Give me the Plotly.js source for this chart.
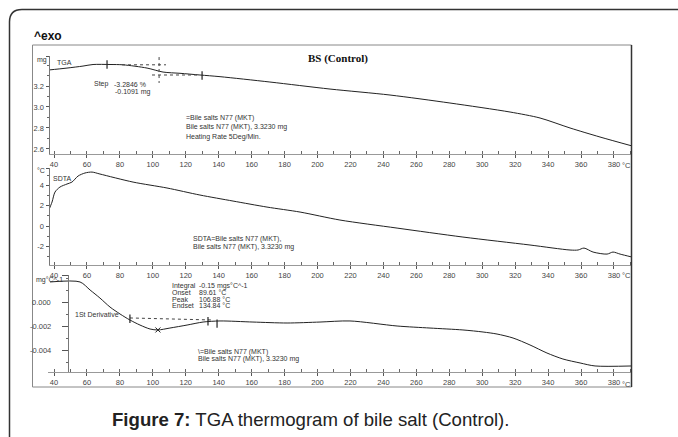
<!DOCTYPE html>
<html>
<head>
<meta charset="utf-8">
<script src="https://cdn.plot.ly/plotly-3.0.1.min.js"></script>
<style>html,body{margin:0;padding:0;background:#fff;}#chart{width:678px;height:437px;}</style>
</head>
<body>
<div id="chart"></div>
<script>
// ---------- data ----------
const xTickVals = [40,60,80,100,120,140,160,180,200,220,240,260,280,300,320,340,360,380];
const xTickText = ["40","60","80","100","120","140","160","180","200","220","240","260","280","300","320","340","360","380"];

// TGA (mg)
const tgaT    = [36.4,47.9,57.6,63.7,74.0,81.9,96.5,106.2,116.5,128.6,140.8,171.1,207.6,244.0,280.4,316.9,335.1,353.3,371.5,390.9];
const tgaMass = [3.352,3.371,3.390,3.405,3.405,3.402,3.371,3.333,3.321,3.305,3.289,3.238,3.171,3.114,3.038,2.952,2.895,2.800,2.714,2.629];
const tgaTickVals = [2.6,2.8,3.0,3.2];
const tgaTickText = ["2.6","2.8","3.0","3.2"];
// step evaluation construction lines
const stepUpperT = [81.3,108.0], stepUpperM = [3.402,3.402];
const stepLowerT = [99.5,128.0], stepLowerM = [3.305,3.305];
const stepVertT  = [103.8,103.8], stepVertM = [3.476,3.229];
const stepMarkT  = [72.2,129.9],  stepMarkM = [3.405,3.300];

// SDTA (°C)
const sdtaT   = [36.4,38.8,40.6,43.6,47.9,50.9,54.6,58.8,63.1,67.9,88.0,108.6,128.6,148.7,169.3,189.4,213.6,248.3,288.3,329.0,353.3,358.2,361.8,367.3,375.8,379.4,383.7,390.9];
const sdtaVal = [1.40,2.35,3.33,3.82,4.12,4.31,4.90,5.20,5.29,5.10,4.31,3.73,3.04,2.45,1.86,1.37,0.59,-0.20,-1.08,-1.86,-2.35,-2.35,-2.16,-2.55,-2.75,-2.55,-2.75,-3.04];
const sdtaTickVals = [-2,0,2,4];
const sdtaTickText = ["-2","0","2","4"];

// 1st derivative (mg °C^-1)
const derT   = [37.6,55.8,61.9,67.9,74.0,80.1,86.1,92.2,98.3,103.1,110.4,120.8,130.5,140.8,160.8,181.5,201.5,219.7,248.3,268.3,288.3,300.5,309.0,318.7,329.0,339.3,349.0,359.4,368.5,390.9];
const derVal = [0.00167,0.00167,0.00100,0.00033,-0.00042,-0.00100,-0.00150,-0.00192,-0.00225,-0.00233,-0.00217,-0.00192,-0.00167,-0.00158,-0.00167,-0.00175,-0.00167,-0.00158,-0.00200,-0.00217,-0.00233,-0.00250,-0.00267,-0.00300,-0.00358,-0.00425,-0.00475,-0.00508,-0.00533,-0.00533];
const derTickVals = [-0.004,-0.002,0.000];
const derTickText = ["-0.004","-0.002","0.000"];
const baseT = [86.1,136.5], baseV = [-0.00133,-0.00150];
const derMarkT = [86.1,133.5,139.0], derMarkV = [-0.00140,-0.00160,-0.00180];
const peakT = [103.1], peakV = [-0.00233];

// ---------- layout helpers (pixel -> paper) ----------
const W = 678, H = 437;
const px = x => x / W;
const py = y => 1 - y / H;
const FONT = "Liberation Sans, Arial, sans-serif";
const ink = "#222";
// pixel position of 40 °C and scale in px per °C, measured on the reference
const X40 = 54, PXC = 1.647;
const tAt = x => 40 + (x - X40) / PXC;
const XR = 632;

function xAxis(anchor, left, shown) {
  const a = {domain: [px(left), px(XR)], anchor: anchor, range: [tAt(left), tAt(XR)], showgrid: false, zeroline: false, fixedrange: true};
  if (shown) {
    Object.assign(a, {showline: true, linecolor: "#999", linewidth: 1, ticks: "outside", ticklen: 3, tickcolor: "#555", tickwidth: 1,
      tickvals: xTickVals, ticktext: xTickText,
      minor: {ticks: "inside", ticklen: 3, tickcolor: "#666", dtick: 10, tick0: 0},
      tickfont: {family: FONT, size: 7.5, color: "#444"}});
  } else {
    Object.assign(a, {showline: false, ticks: "", showticklabels: false});
  }
  return a;
}
function yAxis(anchor, domTop, domBot, range, vals, text, minorD, ticklen, mode) {
  const a = {domain: [py(domBot), py(domTop)], anchor: anchor, range: range, showgrid: false, zeroline: false, fixedrange: true};
  if (mode === "hidden") {
    Object.assign(a, {showline: false, ticks: "", showticklabels: false});
  } else {
    Object.assign(a, {showline: true, linecolor: "#777", linewidth: 1, ticks: "outside", ticklen: ticklen, tickcolor: "#555",
      tickvals: vals.concat([range[1]]), ticktext: text.concat([""]),
      minor: {ticks: "outside", ticklen: 2, tickcolor: "#666", dtick: minorD},
      tickfont: {family: FONT, size: 7.5, color: "#444"},
      showticklabels: mode !== "nolabels"});
  }
  return a;
}

const line = (x, y, xa, ya, extra) => Object.assign({
  x: x, y: y, xaxis: xa, yaxis: ya, type: "scatter", mode: "lines",
  line: {color: ink, width: 1, shape: "spline", smoothing: 0.8},
  hoverinfo: "skip", showlegend: false
}, extra || {});
const dotted = {color: "#444", width: 1, dash: "dot"};

const data = [
  line(tgaT, tgaMass, "x", "y"),
  line(stepUpperT, stepUpperM, "x", "y", {line: dotted}),
  line(stepLowerT, stepLowerM, "x", "y", {line: dotted}),
  line(stepVertT, stepVertM, "x", "y", {line: dotted}),
  {x: stepMarkT, y: stepMarkM, xaxis: "x", yaxis: "y", type: "scatter", mode: "markers",
   marker: {symbol: "line-ns", size: 6, line: {color: ink, width: 1.2}}, hoverinfo: "skip", showlegend: false},

  line(sdtaT, sdtaVal, "x2", "y2"),

  line(derT, derVal, "x3", "y3"),
  line(baseT, baseV, "x3", "y3", {line: dotted}),
  {x: derMarkT, y: derMarkV, xaxis: "x3", yaxis: "y3", type: "scatter", mode: "markers",
   marker: {symbol: "line-ns", size: 6, line: {color: ink, width: 1.2}}, hoverinfo: "skip", showlegend: false},
  {x: peakT, y: peakV, xaxis: "x3", yaxis: "y3", type: "scatter", mode: "markers",
   marker: {symbol: "x-thin", size: 5, line: {color: ink, width: 1}}, hoverinfo: "skip", showlegend: false},
  // carrier (draws nothing) so the derivative's own y axis, set further right, is built
  {x: derT, y: derVal, xaxis: "x4", yaxis: "y4", type: "scatter", mode: "none", hoverinfo: "skip", showlegend: false}
];

function ann(x, y, text, opts) {
  return Object.assign({xref: "paper", yref: "paper", x: px(x), y: py(y), text: text, showarrow: false, xanchor: "left", yanchor: "middle",
    font: {family: FONT, size: 7, color: "#333"}}, opts || {});
}
const unitFont = {family: FONT, size: 7.5, color: "#444"};

const annotations = [
  ann(32, 36, "<b>^exo</b>", {font: {family: FONT, size: 12, color: "#111"}}),
  ann(338, 58, "<b>BS (Control)</b>", {xanchor: "center", font: {family: "Liberation Serif, Times New Roman, serif", size: 11, color: "#111"}}),
  ann(110, 419, "<b>Figure 7:</b> TGA thermogram of bile salt (Control).", {font: {family: FONT, size: 18.6, color: "#222"}}),

  // panel 1
  ann(35, 60, "mg"),
  ann(55, 63, "TGA"),
  ann(92, 84, "Step"),
  ann(112, 84, "-3.2846 %"),
  ann(113, 92, "-0.1091 mg"),
  ann(184, 118, "=Bile salts N77 (MKT)"),
  ann(184, 127, "Bile salts N77 (MKT), 3.3230 mg"),
  ann(184, 137, "Heating Rate 5Deg/Min."),
  ann(620, 165.5, "°C", {font: unitFont}),

  // panel 2
  ann(35, 170, "°C"),
  ann(51, 178, "SDTA"),
  ann(191, 239, "SDTA=Bile salts N77 (MKT),"),
  ann(191, 247, "Bile salts N77 (MKT), 3.3230 mg"),
  ann(620, 275, "°C", {font: unitFont}),

  // panel 3
  ann(34, 280, "mg°C^-1"),
  ann(170, 286, "Integral"),
  ann(197, 286, "-0.15 mgs°C^-1"),
  ann(170, 292.5, "Onset"),
  ann(197, 292.5, "89.61 °C"),
  ann(170, 299, "Peak"),
  ann(197, 299, "106.88 °C"),
  ann(170, 305.5, "Endset"),
  ann(197, 305.5, "134.84 °C"),
  ann(73, 314, "1St Derivative"),
  ann(196, 352, "\\=Bile salts N77 (MKT)"),
  ann(196, 359, "Bile salts N77 (MKT), 3.3230 mg"),
  ann(620, 384, "°C", {font: unitFont})
];
// tick labels of the derivative axis, placed through the y3 scale
derTickVals.forEach((v, i) => annotations.push({
  xref: "paper", yref: "y3", x: px(53), y: v, text: derTickText[i], showarrow: false,
  xanchor: "right", yanchor: "middle", font: {family: FONT, size: 7.5, color: "#444"}
}));

const P = (x, y) => px(x).toFixed(5) + "," + py(y).toFixed(5);
const framePath = "M" + P(9.5, 437) + " L" + P(9.5, 22) + " Q" + P(9.5, 9.5) + " " + P(22, 9.5) + " L" + P(678, 9.5);
const shapes = [
  {type: "path", xref: "paper", yref: "paper", path: framePath, line: {color: "#333", width: 1.5}},
  {type: "rect", xref: "paper", yref: "paper", x0: px(32.5), x1: px(631.5), y0: py(387), y1: py(45), line: {color: "#888", width: 1}},
  {type: "line", xref: "paper", yref: "paper", x0: px(631.5), x1: px(631.5), y0: py(387), y1: py(45), line: {color: "#333", width: 1.5}}
];

const y1R = [2.552, 3.486], y2R = [-3.82, 5.69], y3R = [-0.005833, 0.00225];

const layout = {
  width: W, height: H, margin: {l: 0, r: 0, t: 0, b: 0},
  paper_bgcolor: "#fff", plot_bgcolor: "rgba(0,0,0,0)", showlegend: false,
  xaxis:  xAxis("y", 49.5, true),
  xaxis2: xAxis("y2", 49.5, true),
  xaxis3: xAxis("y3", 48, true),
  xaxis4: xAxis("y4", 68.5, false),
  yaxis:  yAxis("x", 56, 154, y1R, tgaTickVals, tgaTickText, 0.1, 3, "full"),
  yaxis2: yAxis("x2", 168, 265, y2R, sdtaTickVals, sdtaTickText, 1, 3, "full"),
  yaxis3: yAxis("x3", 275, 372, y3R, derTickVals, derTickText, 0.001, 6, "hidden"),
  yaxis4: yAxis("x4", 275, 372, y3R, derTickVals, derTickText, 0.001, 6, "nolabels"),
  annotations: annotations, shapes: shapes
};

Plotly.newPlot("chart", data, layout, {staticPlot: true, displayModeBar: false});
</script>
</body>
</html>
